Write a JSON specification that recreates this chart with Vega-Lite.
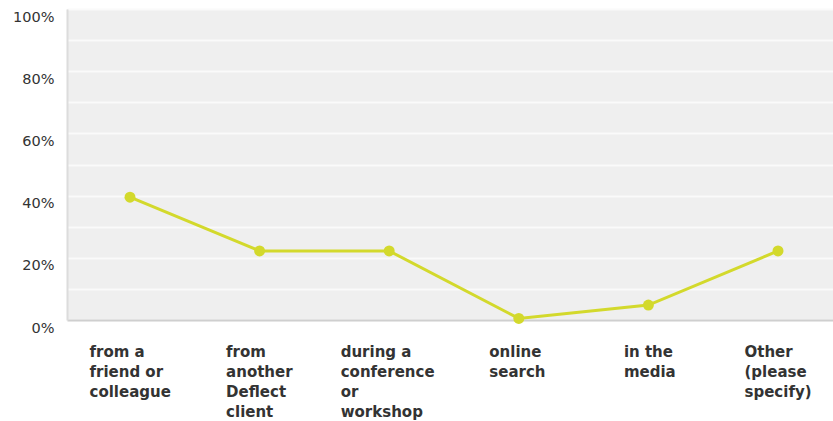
{
  "$schema": "https://vega.github.io/schema/vega-lite/v6.json",
  "autosize": "none",
  "width": 766,
  "height": 311,
  "padding": {"left": 67, "top": 9, "right": 0, "bottom": 101},
  "background": "white",
  "config": {
    "view": {"fill": "#efefef", "stroke": null}
  },
  "data": {
    "values": [
      {"source": "from a|friend or|colleague", "share": 0.395},
      {"source": "from|another|Deflect|client", "share": 0.222},
      {"source": "during a|conference|or|workshop", "share": 0.222},
      {"source": "online|search", "share": 0.005},
      {"source": "in the|media", "share": 0.048},
      {"source": "Other|(please|specify)", "share": 0.222}
    ]
  },
  "mark": {
    "type": "line",
    "color": "#d3d92c",
    "strokeWidth": 3,
    "point": {"filled": true, "size": 120, "color": "#d3d92c", "opacity": 1}
  },
  "encoding": {
    "x": {
      "field": "source",
      "type": "nominal",
      "sort": null,
      "scale": {"type": "point", "padding": 0.4552, "align": 0.5339},
      "axis": {
        "title": null,
        "ticks": false,
        "grid": false,
        "domainColor": "#cfcfcf",
        "domainWidth": 2,
        "labelAngle": 0,
        "labelAlign": "left",
        "labelBaseline": "top",
        "labelPadding": 24,
        "labelLineHeight": 20,
        "labelFont": "DejaVu Sans",
        "labelFontWeight": "bold",
        "labelFontSize": 15,
        "labelColor": "#333333",
        "labelExpr": "split(datum.label, '|')",
        "labelLimit": 0,
        "labelOffset": {
          "condition": [
            {"test": "datum.value === 'from a|friend or|colleague'", "value": -41},
            {"test": "datum.value === 'from|another|Deflect|client'", "value": -34},
            {"test": "datum.value === 'during a|conference|or|workshop'", "value": -49},
            {"test": "datum.value === 'online|search'", "value": -30},
            {"test": "datum.value === 'in the|media'", "value": -25}
          ],
          "value": -34
        }
      }
    },
    "y": {
      "field": "share",
      "type": "quantitative",
      "scale": {"domain": [0, 1], "nice": false},
      "axis": {
        "title": null,
        "values": [0, 0.1, 0.2, 0.3, 0.4, 0.5, 0.6, 0.7, 0.8, 0.9, 1],
        "labelExpr": "round(datum.value * 10) % 2 == 0 ? format(datum.value, '.0%') : ''",
        "ticks": false,
        "grid": true,
        "gridColor": "#fafafa",
        "gridWidth": 2,
        "gridOpacity": 1,
        "domainColor": "#dcdcdc",
        "domainWidth": 2,
        "labelPadding": 13,
        "labelBaseline": "top",
        "labelOffset": 1,
        "labelFont": "DejaVu Sans",
        "labelFontSize": 14.5,
        "labelColor": "#333333"
      }
    }
  }
}
